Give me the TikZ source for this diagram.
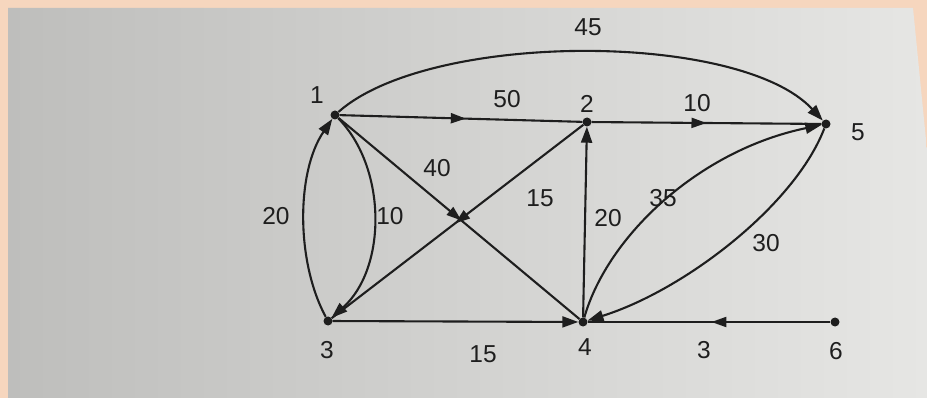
\documentclass[tikz,border=0pt]{standalone}
\usepackage{fontspec}
\setmainfont{Liberation Sans}
\usetikzlibrary{arrows.meta,decorations.markings}
\definecolor{ink}{RGB}{30,30,30}
\definecolor{peach}{RGB}{246,214,190}
\definecolor{paperL}{RGB}{190,190,188}
\definecolor{paperM}{RGB}{218,218,216}
\definecolor{paperR}{RGB}{230,230,228}
\tikzset{
  dot/.style={circle, fill=ink, inner sep=0pt, minimum size=9pt},
  lbl/.style={text=ink, font=\fontsize{24.5}{24.5}\selectfont, inner sep=0pt},
  edge/.style={line width=2.1pt, draw=ink},
  tipend/.style={-{Triangle[length=16pt,width=11pt]}},
  midarrow/.style={postaction={decorate}, decoration={markings,
      mark=at position #1 with {\arrow{Triangle[length=15pt,width=10pt]}}}},
}
\begin{document}
\begin{tikzpicture}[x=1pt,y=-1pt]
\useasboundingbox (0,0) rectangle (927,398);
\fill[peach] (0,0) rectangle (927,398);
\shade[left color=paperL, middle color=paperM, right color=paperR]
  (8,8) -- (913,8) -- (927,150) -- (927,398) -- (8,398) -- cycle;

% vertices
\node[dot] (n1) at (335,115) {};
\node[dot] (n2) at (587,122) {};
\node[dot] (n5) at (826,124) {};
\node[dot] (n3) at (328,321) {};
\node[dot] (n4) at (583,322) {};
\node[dot] (n6) at (835,322) {};

% vertex labels
\node[lbl] (l1) at (317,95) {1};
\node[lbl] (l2) at (587,104) {2};
\node[lbl] (l5) at (858,132) {5};
\node[lbl] (l3) at (327,350) {3};
\node[lbl] (l4) at (585,347) {4};
\node[lbl] (l6) at (836,351) {6};

% edges
\draw[edge, tipend] (n1) .. controls (430,31) and (740,31) .. (n5);
\draw[edge, midarrow=0.52] (n1) -- (n2);
\draw[edge, midarrow=0.5] (n2) -- (n5);
\draw[edge, tipend] (n3) .. controls (296,262) and (296,172) .. (n1);
\draw[edge, tipend] (n1) .. controls (387,168) and (387,268) .. (n3);
\draw[edge, midarrow=0.51] (n1) -- (n4);
\draw[edge, midarrow=0.51] (n2) -- (n3);
\draw[edge, tipend] (n3) -- (n4);
\draw[edge, tipend] (n4) -- (n2);
\draw[edge, tipend] (n4) .. controls (608,235) and (700,150) .. (n5);
\draw[edge, tipend] (n5) .. controls (795,205) and (685,290) .. (n4);
\draw[edge, midarrow=0.49] (n6) -- (n4);

% weights
\node[lbl] (w15) at (588,27) {45};
\node[lbl] (w12) at (507,99) {50};
\node[lbl] (w25) at (697,103) {10};
\node[lbl] (w14) at (437,168) {40};
\node[lbl] (w23) at (540,198) {15};
\node[lbl] (w31) at (276,216) {20};
\node[lbl] (w13) at (390,216) {10};
\node[lbl] (w42) at (608,218) {20};
\node[lbl] (w45) at (663,198) {35};
\node[lbl] (w54) at (766,243) {30};
\node[lbl] (w34) at (483,354) {15};
\node[lbl] (w64) at (704,350) {3};
\end{tikzpicture}
\end{document}
